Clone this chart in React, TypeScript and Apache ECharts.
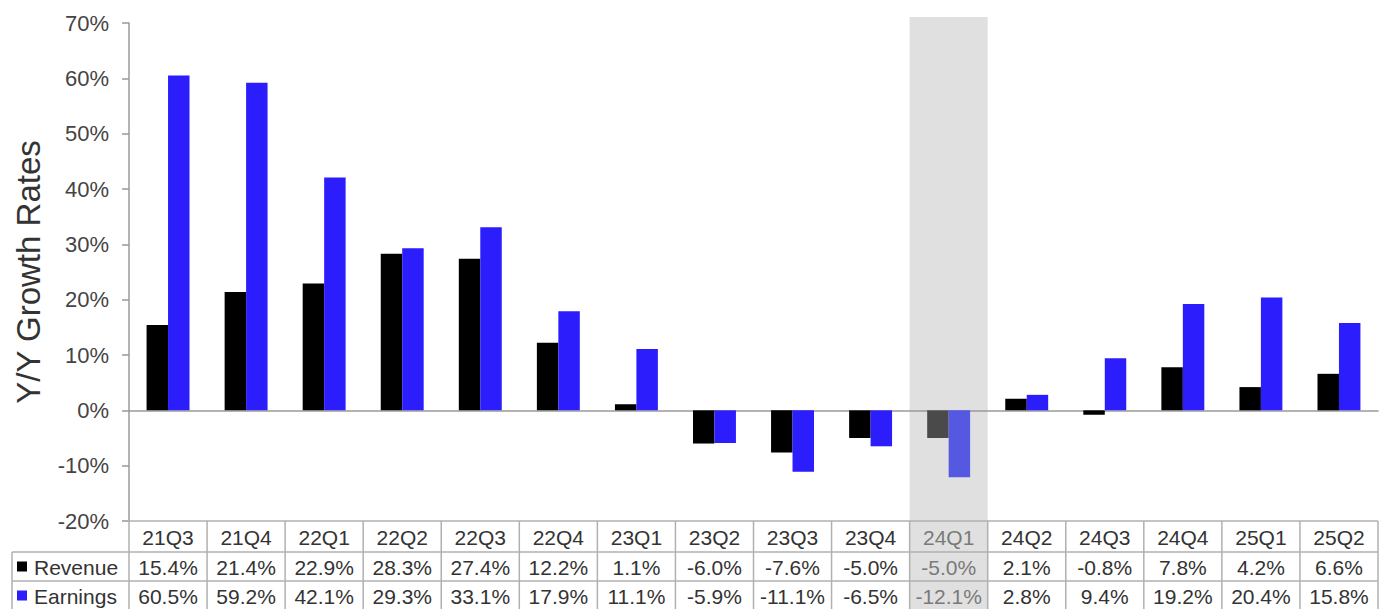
import React, { useEffect, useRef } from "react";
import * as echarts from "echarts";

const categories = ["21Q3", "21Q4", "22Q1", "22Q2", "22Q3", "22Q4", "23Q1", "23Q2", "23Q3", "23Q4", "24Q1", "24Q2", "24Q3", "24Q4", "25Q1", "25Q2"];
const revenue = [15.4, 21.4, 22.9, 28.3, 27.4, 12.2, 1.1, -6.0, -7.6, -5.0, -5.0, 2.1, -0.8, 7.8, 4.2, 6.6];
const earnings = [60.5, 59.2, 42.1, 29.3, 33.1, 17.9, 11.1, -5.9, -11.1, -6.5, -12.1, 2.8, 9.4, 19.2, 20.4, 15.8];
const highlightIndex = 10;
const yMin = -20;
const yMax = 70;
const yStep = 10;

const FONT = '"Liberation Sans", Arial, Helvetica, sans-serif';
const REV_COLOR = "#000000";
const EARN_COLOR = "#2b1dfc";
const REV_HL = "#4a4a4a";
const EARN_HL = "#5558e0";
const BORDER = "#b0b0b0";

export default function App() {
  const ref = useRef<HTMLDivElement>(null);
  useEffect(() => {
    if (!ref.current) return;
    const chart = echarts.init(ref.current, null, { renderer: "svg" });
    const mk = (vals: number[], hl: string) =>
      vals.map((v, i) => (i === highlightIndex ? { value: v, itemStyle: { color: hl } } : v));
    chart.setOption({
      animation: false,
      grid: { left: 129, right: 9, top: 23, bottom: 88 },
      xAxis: {
        type: "category",
        data: categories,
        axisLine: { onZero: true, lineStyle: { color: "#9a9a9a", width: 1.5 } },
        axisTick: { show: false },
        axisLabel: { show: false },
      },
      yAxis: {
        type: "value",
        min: yMin,
        max: yMax,
        interval: yStep,
        name: "Y/Y Growth Rates",
        nameLocation: "middle",
        nameGap: 84,
        nameTextStyle: { fontSize: 33, color: "#333", fontFamily: FONT },
        axisLine: { show: true, lineStyle: { color: "#9a9a9a", width: 1.5 } },
        axisTick: { show: true, length: 7, lineStyle: { color: "#9a9a9a", width: 1.5 } },
        axisLabel: { formatter: "{value}%", fontSize: 22, color: "#444", fontFamily: FONT, margin: 20 },
        splitLine: { show: false },
      },
      series: [
        {
          name: "Revenue",
          type: "bar",
          data: mk(revenue, REV_HL),
          itemStyle: { color: REV_COLOR },
          barGap: "0%",
          barCategoryGap: "45%",
          z: 3,
        },
        {
          name: "Earnings",
          type: "bar",
          data: mk(earnings, EARN_HL),
          itemStyle: { color: EARN_COLOR },
          barGap: "0%",
          barCategoryGap: "45%",
          z: 3,
        },
      ],
    });

    const px = (i: number) => chart.convertToPixel({ xAxisIndex: 0 }, categories[i]) as number;
    const py = (v: number) => chart.convertToPixel({ yAxisIndex: 0 }, v) as number;
    const colW = px(1) - px(0);
    const left = px(0) - colW / 2;
    const right = left + colW * categories.length;
    const top = py(yMin);
    const plotTop = py(yMax);
    const hH = 31;
    const rH = 29;
    const rows = [top, top + hH, top + hH + rH, top + hH + 2 * rH];
    const labelLeft = 12;
    const H = 609;

    const els: any[] = [];
    els.push({
      type: "rect",
      z: -10,
      shape: { x: left + colW * highlightIndex, y: plotTop - 6, width: colW, height: H - plotTop + 6 },
      style: { fill: "#e0e0e0" },
      silent: true,
    });
    const line = (x1: number, y1: number, x2: number, y2: number) =>
      els.push({ type: "line", z: 5, shape: { x1, y1, x2, y2 }, style: { stroke: BORDER, lineWidth: 1.5 }, silent: true });
    line(left - 7, rows[0], right, rows[0]);
    line(labelLeft, rows[1], right, rows[1]);
    line(labelLeft, rows[2], right, rows[2]);
    line(labelLeft, rows[3], right, rows[3]);
    line(labelLeft, rows[1], labelLeft, H);
    for (let i = 0; i <= categories.length; i++) {
      line(left + colW * i, rows[0], left + colW * i, H);
    }
    const text = (t: string, x: number, y: number, fill: string, align = "center") =>
      els.push({
        type: "text",
        z: 6,
        x,
        y,
        style: { text: t, fontSize: 21, fontFamily: FONT, fill, align, verticalAlign: "middle" },
        silent: true,
      });
    const fmt = (v: number) => `${v.toFixed(1)}%`;
    categories.forEach((c, i) => {
      const cx = left + colW * (i + 0.5);
      const fill = i === highlightIndex ? "#7a7a7a" : "#333";
      text(c, cx, rows[0] + hH / 2 + 1, fill);
      text(fmt(revenue[i]), cx, rows[1] + rH / 2 + 1, fill);
      text(fmt(earnings[i]), cx, rows[2] + rH / 2 + 1, fill);
    });
    const sq = 10;
    els.push({ type: "rect", z: 6, shape: { x: labelLeft + 5, y: rows[1] + rH / 2 - sq / 2, width: sq, height: sq }, style: { fill: REV_COLOR } });
    els.push({ type: "rect", z: 6, shape: { x: labelLeft + 5, y: rows[2] + rH / 2 - sq / 2, width: sq, height: sq }, style: { fill: EARN_COLOR } });
    text("Revenue", labelLeft + 22, rows[1] + rH / 2 + 1, "#333", "left");
    text("Earnings", labelLeft + 22, rows[2] + rH / 2 + 1, "#333", "left");

    chart.setOption({ graphic: { elements: els } });
    return () => chart.dispose();
  }, []);
  return <div ref={ref} style={{ position: "fixed", left: 0, top: 0, width: 1387, height: 609, background: "#fff" }} />;
}
